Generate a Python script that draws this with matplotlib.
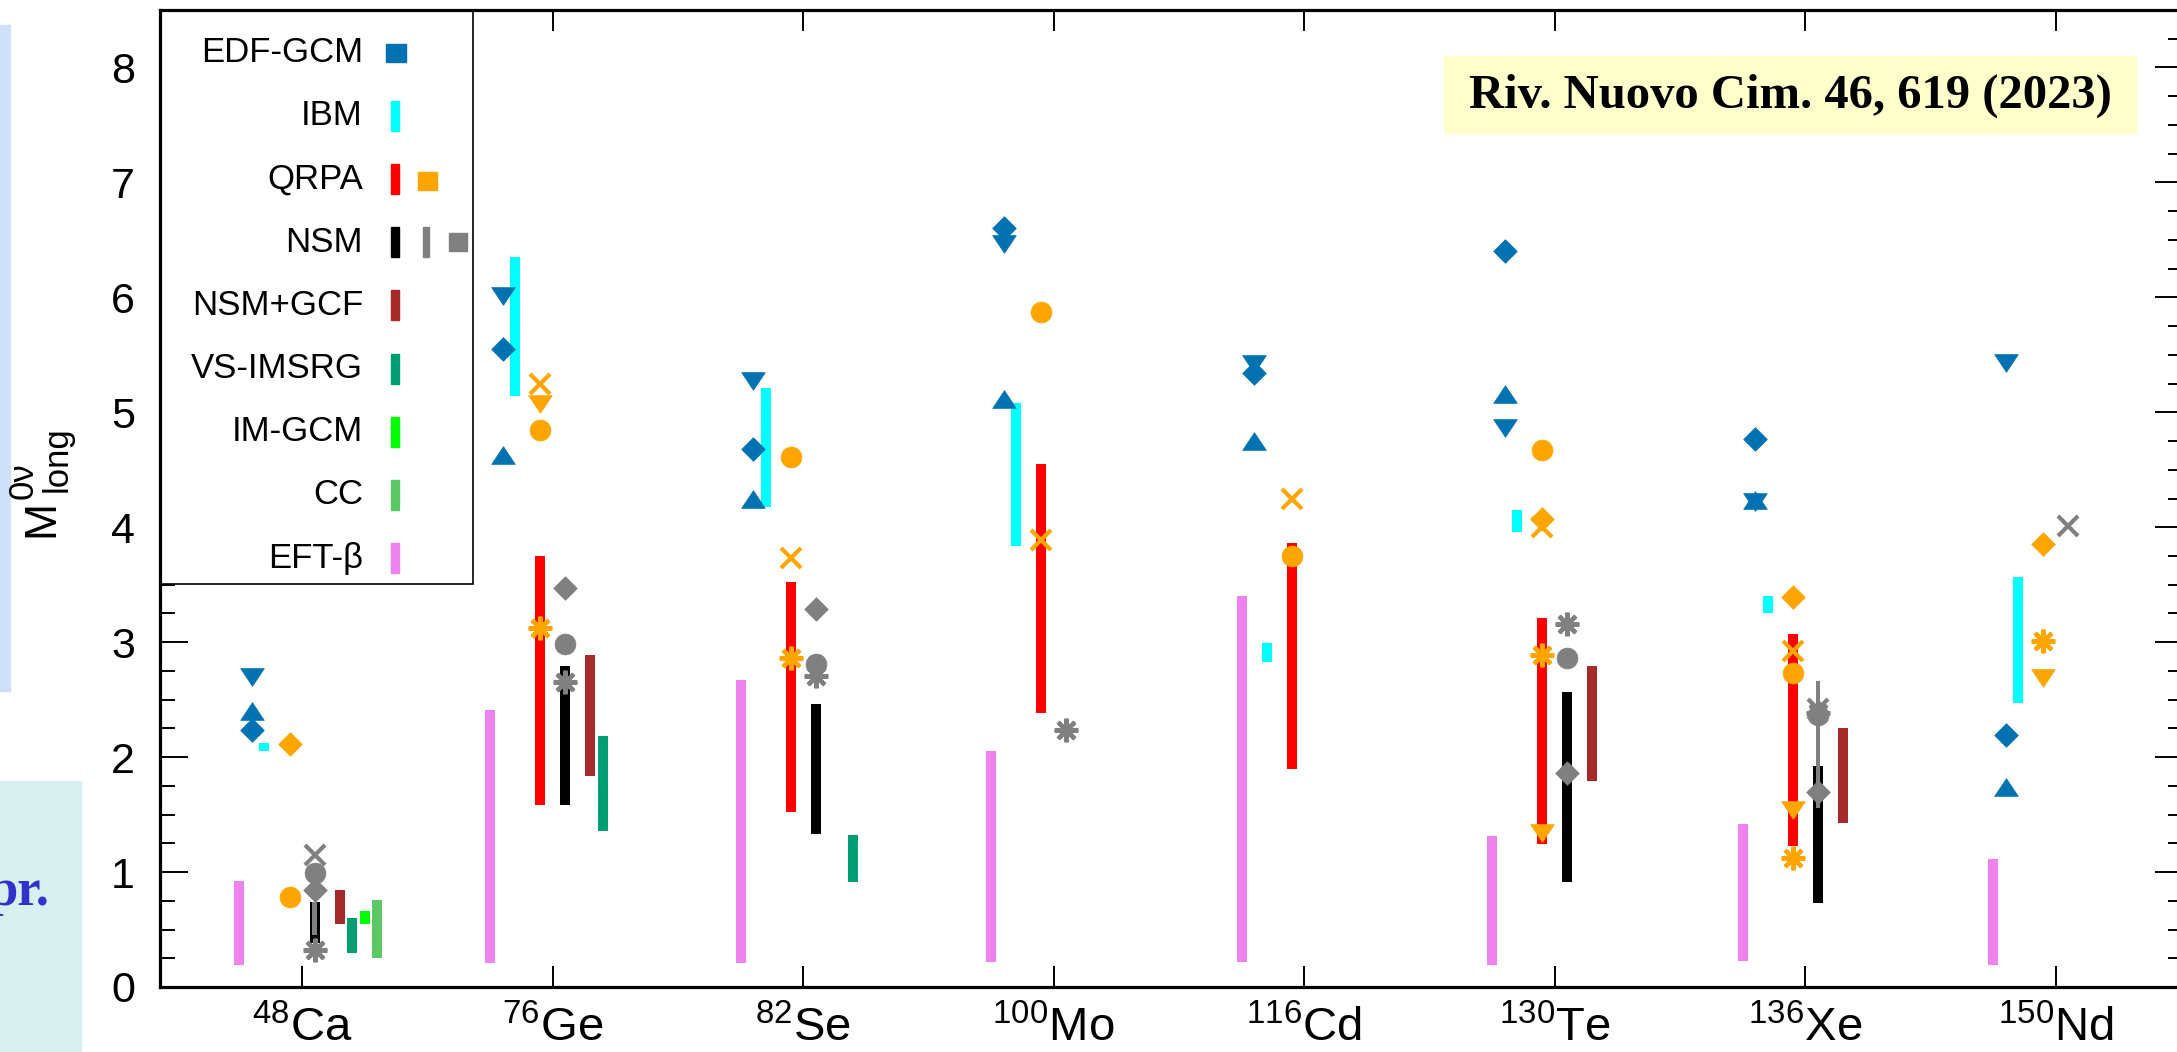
import numpy as np
import matplotlib.pyplot as plt
from matplotlib.patches import Rectangle
from matplotlib.ticker import MultipleLocator, FixedLocator
from matplotlib.transforms import Affine2D

plt.rcParams['font.family'] = ['Liberation Sans', 'DejaVu Sans']
plt.rcParams['mathtext.fontset'] = 'custom'
plt.rcParams['mathtext.rm'] = 'Liberation Sans'
plt.rcParams['mathtext.it'] = 'Liberation Sans:italic'

nan = np.nan
nuclei = [r'$\mathregular{^{48}Ca}$', r'$\mathregular{^{76}Ge}$', r'$\mathregular{^{82}Se}$',
          r'$\mathregular{^{100}Mo}$', r'$\mathregular{^{116}Cd}$', r'$\mathregular{^{130}Te}$',
          r'$\mathregular{^{136}Xe}$', r'$\mathregular{^{150}Nd}$']
pos = np.arange(1, 9)

# EDF-GCM
edf_down = [2.70, 6.01, 5.27, 6.46, 5.42, 4.86, 4.22, 5.43]
edf_up = [2.40, 4.63, 4.25, 5.12, 4.75, 5.16, 4.24, 1.74]
edf_diam = [2.24, 5.55, 4.68, 6.60, 5.34, 6.40, 4.77, 2.19]

# IBM
ibm_lo = [2.055, 5.14, 4.18, 3.84, 2.83, 3.96, 3.25, 2.47]
ibm_hi = [2.125, 6.35, 5.21, 5.08, 2.99, 4.15, 3.40, 3.57]

# QRPA
qrpa_lo = [nan, 1.58, 1.52, 2.38, 1.90, 1.24, 1.23, nan]
qrpa_hi = [nan, 3.75, 3.52, 4.55, 3.86, 3.21, 3.07, nan]
qrpa_circle = [0.78, 4.85, 4.61, 5.87, 3.75, 4.67, 2.73, nan]
qrpa_cross = [nan, 5.25, 3.73, 3.89, 4.25, 4.00, 2.92, nan]
qrpa_down = [nan, 5.07, nan, nan, nan, 1.34, 1.54, 2.69]
qrpa_star = [nan, 3.12, 2.86, nan, nan, 2.89, 1.12, 3.01]
qrpa_diam = [2.11, nan, nan, nan, nan, 4.07, 3.39, 3.85]

# NSM
nsm_lo = [0.38, 1.58, 1.33, nan, nan, 0.91, 0.73, nan]
nsm_hi = [0.74, 2.79, 2.46, nan, nan, 2.57, 1.92, nan]
nsm2_lo = [0.45, nan, nan, nan, nan, nan, 1.56, nan]
nsm2_hi = [0.74, nan, nan, nan, nan, nan, 2.66, nan]
nsm_diam = [0.84, 3.47, 3.29, nan, nan, 1.86, 1.70, nan]
nsm_circle = [0.99, 2.98, 2.81, nan, nan, 2.86, 2.37, nan]
nsm_star = [0.32, 2.65, 2.71, 2.24, nan, 3.16, 2.38, nan]
nsm_cross = [1.15, nan, nan, nan, nan, nan, 2.42, 4.01]

# NSM+GCF, VS-IMSRG, IM-GCM, CC
gcf_lo = [0.55, 1.84, nan, nan, nan, 1.79, 1.43, nan]
gcf_hi = [0.84, 2.89, nan, nan, nan, 2.79, 2.25, nan]
vs_lo = [0.30, 1.36, 0.91, nan, nan, nan, nan, nan]
vs_hi = [0.60, 2.18, 1.32, nan, nan, nan, nan, nan]
imgcm_lo = [0.55, nan, nan, nan, nan, nan, nan, nan]
imgcm_hi = [0.66, nan, nan, nan, nan, nan, nan, nan]
cc_lo = [0.25, nan, nan, nan, nan, nan, nan, nan]
cc_hi = [0.76, nan, nan, nan, nan, nan, nan, nan]

# EFT-beta
eft_lo = [0.19, 0.21, 0.21, 0.22, 0.22, 0.19, 0.23, 0.19]
eft_hi = [0.92, 2.41, 2.67, 2.05, 3.40, 1.31, 1.42, 1.11]

methods = ['EDF-GCM', 'IBM', 'QRPA', 'NSM', 'NSM+GCF', 'VS-IMSRG', 'IM-GCM', 'CC', 'EFT-β']

BLUE = '#0072b2'
CYAN = '#00ffff'
RED = '#ff0000'
ORANGE = '#ffa500'
GRAY = '#808080'
BROWN = '#a52a2a'
TEAL = '#009e73'
LIME = '#00ff00'
CCGREEN = '#5cc863'
VIOLET = '#ee82ee'

TRI_DN = [(-1, 0.75), (1, 0.75), (0, -0.75), (-1, 0.75)]
TRI_UP = [(-1, -0.75), (1, -0.75), (0, 0.75), (-1, -0.75)]
DIAM = [(0, 1), (1, 0), (0, -1), (-1, 0), (0, 1)]
STAR8 = (8, 2, 0)

W, H = 2177, 1052
fig = plt.figure(figsize=(W / 100, H / 100), dpi=100)
ax = fig.add_axes([160 / W, 65 / H, 2023 / W, 977 / H])
# pixel coordinates measured from the top-left corner of the figure
px = Affine2D().scale(1 / W, -1 / H).translate(0, 1) + fig.transFigure


def ranges(lo, hi, dx, color, w=0.04):
    lo = np.asarray(lo, float)
    hi = np.asarray(hi, float)
    m = ~np.isnan(lo)
    ax.bar(pos[m] + dx, hi[m] - lo[m], bottom=lo[m], width=w, color=color,
           linewidth=0, zorder=3)


def points(vals, dx, color, marker, ms=17, **kw):
    ax.plot(pos + dx, vals, linestyle='none', marker=marker, ms=ms, color=color,
            mec=color, zorder=4, **kw)


ranges(eft_lo, eft_hi, -0.25, VIOLET)
ranges(ibm_lo, ibm_hi, -0.15, CYAN)
ranges(qrpa_lo, qrpa_hi, -0.05, RED)
ranges(nsm_lo, nsm_hi, 0.05, 'black')
ranges(nsm2_lo, nsm2_hi, 0.05, GRAY, w=0.019)
ranges(gcf_lo, gcf_hi, 0.15, BROWN)
ranges(vs_lo, vs_hi, 0.20, TEAL)
ranges(imgcm_lo, imgcm_hi, 0.25, LIME)
ranges(cc_lo, cc_hi, 0.30, CCGREEN)

points(edf_down, -0.2, BLUE, TRI_DN, mew=0.5)
points(edf_up, -0.2, BLUE, TRI_UP, mew=0.5)
points(edf_diam, -0.2, BLUE, DIAM, mew=0.5)

points(qrpa_circle, -0.05, ORANGE, 'o', ms=15, mew=0.5)
points(qrpa_diam, -0.05, ORANGE, DIAM, mew=0.5)
points(qrpa_down, -0.05, ORANGE, TRI_DN, mew=0.5)
points(qrpa_cross, -0.05, ORANGE, 'x', ms=15, mew=3)
points(qrpa_star, -0.05, ORANGE, STAR8, ms=17, mew=3)

points(nsm_circle, 0.05, GRAY, 'o', ms=15, mew=0.5)
points(nsm_diam, 0.05, GRAY, DIAM, mew=0.5)
points(nsm_cross, 0.05, GRAY, 'x', ms=15, mew=3)
points(nsm_star, 0.05, GRAY, STAR8, ms=17, mew=3)

ax.set_xlim(0.433, 8.507)
ax.set_ylim(0, 8.5)
ax.xaxis.set_major_locator(FixedLocator(pos))
ax.set_xticklabels(nuclei)
ax.yaxis.set_major_locator(MultipleLocator(1))
ax.yaxis.set_minor_locator(MultipleLocator(0.25))
ax.tick_params(axis='y', which='major', direction='in', length=20, width=1.4,
               left=True, right=True, labelsize=31, pad=18)
ax.tick_params(axis='y', which='minor', direction='in', length=10.5, width=1.4,
               left=True, right=True)
ax.tick_params(axis='x', which='major', direction='in', length=15, width=1.4,
               top=True, bottom=True, labelsize=34, pad=14)
ax.tick_params(axis='x', which='minor', bottom=False, top=False)
for s in ax.spines.values():
    s.set_linewidth(2.3)

# y-axis title built from pieces so the indices keep a large size
ytitle = [('M', 53, 537, 32), ('0ν', 33, 499, 25), ('long', 67, 492, 25)]
for s, xb, ys, size in ytitle:
    fig.text(xb, ys, s, transform=px, rotation=90, rotation_mode='anchor',
             ha='left', va='baseline', fontsize=size)

# key box in the upper left corner
ax.add_patch(Rectangle((160, 10), 313, 574, transform=px, facecolor='white',
                       edgecolor='black', linewidth=1.2, zorder=2.2, clip_on=False))
bar_colors = [None, CYAN, RED, 'black', BROWN, TEAL, LIME, CCGREEN, VIOLET]
for i, name in enumerate(methods):
    yc = 52.5 + i * 63.2
    ax.text(363, yc, name, transform=px, ha='right', va='center', fontsize=25,
            zorder=2.3)
    if bar_colors[i] is not None:
        ax.add_patch(Rectangle((391, yc - 15), 8, 30, transform=px,
                               color=bar_colors[i], zorder=2.3, clip_on=False))
ax.add_patch(Rectangle((386, 52.5 - 9), 20, 18, transform=px, color=BLUE,
                       zorder=2.3, clip_on=False))
ax.add_patch(Rectangle((418, 180.9 - 9), 19, 18, transform=px, color=ORANGE,
                       zorder=2.3, clip_on=False))
ax.add_patch(Rectangle((423, 242.1 - 15), 6, 30, transform=px, color=GRAY,
                       zorder=2.3, clip_on=False))
ax.add_patch(Rectangle((449, 242.1 - 9), 18, 18, transform=px, color=GRAY,
                       zorder=2.3, clip_on=False))

# reference tag
ax.add_patch(Rectangle((1444, 56), 693, 78, transform=px, facecolor='#ffffcc',
                       edgecolor='none', zorder=2.2, clip_on=False))
ax.text(1790, 96, 'Riv. Nuovo Cim. 46, 619 (2023)', transform=px, ha='center',
        va='center', fontsize=35, fontweight='bold',
        family=['Liberation Serif', 'DejaVu Serif'], zorder=2.3)

# slide panels at the left edge
fig.patches.append(Rectangle((0, 25), 10, 666, transform=px, color='#cfe0fb'))
fig.patches.append(Rectangle((0, 781), 81, 271, transform=px, color='#daeff0'))
fig.text(49, 905, 'pr.', transform=px, ha='right', va='baseline', fontsize=38,
         fontweight='bold', color='#3333cc',
         family=['Liberation Serif', 'DejaVu Serif'])

fig.savefig('out.png', dpi=100)
